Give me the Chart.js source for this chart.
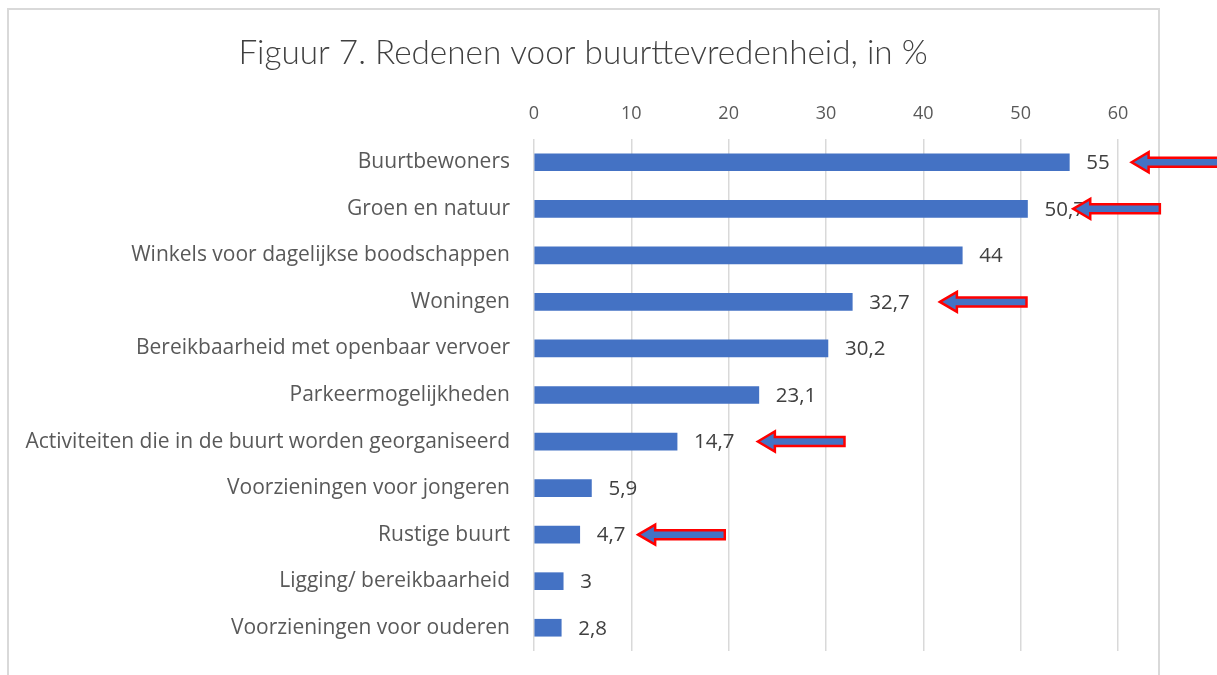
<!DOCTYPE html>
<html lang="nl">
<head>
<meta charset="UTF-8">
<title>Figuur 7. Redenen voor buurttevredenheid</title>
<script src="https://cdn.jsdelivr.net/npm/chart.js"></script>
<style>
  html, body { margin: 0; padding: 0; background: #fff; }
  .wrap { position: relative; width: 1217px; height: 675px; }
  .frame {
    position: absolute; left: 7px; top: 8px; width: 1153px; height: 700px;
    border: 2px solid #d9d9d9; box-sizing: border-box;
  }
  canvas { position: absolute; left: 0; top: 0; }
</style>
</head>
<body>
<div class="wrap">
  <div class="frame"></div>
  <canvas id="chart" width="1217" height="675"></canvas>
</div>

<script>
var titleText = 'Figuur 7. Redenen voor buurttevredenheid, in %';

var categories = [
  'Buurtbewoners',
  'Groen en natuur',
  'Winkels voor dagelijkse boodschappen',
  'Woningen',
  'Bereikbaarheid met openbaar vervoer',
  'Parkeermogelijkheden',
  'Activiteiten die in de buurt worden georganiseerd',
  'Voorzieningen voor jongeren',
  'Rustige buurt',
  'Ligging/ bereikbaarheid',
  'Voorzieningen voor ouderen'
];
var values = [55, 50.7, 44, 32.7, 30.2, 23.1, 14.7, 5.9, 4.7, 3, 2.8];

// markeerpijlen: categorie en waarde van de pijlpunt (in %)
var arrowCats = ['Buurtbewoners', 'Groen en natuur', 'Woningen', 'Activiteiten die in de buurt worden georganiseerd', 'Rustige buurt'];
var arrowTips = [61.4, 55.4, 41.7, 23.0, 10.7];
var arrowLen = 8.9;

function fmt(v) {
  return String(v).replace('.', ',');
}

// waarden naast de balken
var valueLabels = {
  id: 'valueLabels',
  afterDatasetsDraw: function(chart) {
    var ctx = chart.ctx;
    var meta = chart.getDatasetMeta(0);
    ctx.save();
    ctx.font = '20.5px "Open Sans"';
    ctx.fillStyle = '#404040';
    ctx.textAlign = 'left';
    ctx.textBaseline = 'middle';
    meta.data.forEach(function(bar, i) {
      ctx.fillText(fmt(values[i]), bar.x + 17, bar.y + 1);
    });
    ctx.restore();
  }
};

// pijlen en titel
var extras = {
  id: 'extras',
  afterDraw: function(chart) {
    var ctx = chart.ctx;
    var xs = chart.scales.x, ys = chart.scales.y;
    ctx.save();
    for (var i = 0; i < arrowCats.length; i++) {
      var y = ys.getPixelForValue(categories.indexOf(arrowCats[i]));
      var tip = xs.getPixelForValue(arrowTips[i]);
      var tail = xs.getPixelForValue(arrowTips[i] + arrowLen);
      var head = 17;
      ctx.beginPath();
      ctx.moveTo(tip, y);
      ctx.lineTo(tip + head, y - 10);
      ctx.lineTo(tip + head, y - 4.5);
      ctx.lineTo(tail, y - 4.5);
      ctx.lineTo(tail, y + 4.5);
      ctx.lineTo(tip + head, y + 4.5);
      ctx.lineTo(tip + head, y + 10);
      ctx.closePath();
      ctx.fillStyle = '#4472C4';
      ctx.fill();
      ctx.lineWidth = 2.5;
      ctx.strokeStyle = '#FF0000';
      ctx.stroke();
    }
    ctx.font = '300 33.3px Lato';
    ctx.fillStyle = '#404040';
    ctx.textAlign = 'center';
    ctx.textBaseline = 'middle';
    ctx.fillText(titleText, 583, 53);
    ctx.restore();
  }
};

new Chart(document.getElementById('chart'), {
  type: 'bar',
  data: {
    labels: categories,
    datasets: [{
      data: values,
      backgroundColor: '#4472C4',
      barThickness: 17
    }]
  },
  options: {
    indexAxis: 'y',
    responsive: false,
    animation: false,
    layout: { padding: { top: 0, right: 99, bottom: 24, left: 0 } },
    plugins: {
      legend: { display: false },
      tooltip: { enabled: false }
    },
    scales: {
      x: {
        position: 'top',
        min: 0,
        max: 60,
        ticks: {
          stepSize: 10,
          color: '#595959',
          font: { family: 'Open Sans', size: 18 },
          padding: 14
        },
        grid: { color: '#d9d9d9', lineWidth: 1.5, drawTicks: false },
        border: { display: false },
        afterFit: function(scale) { scale.height = 139; }
      },
      y: {
        ticks: {
          color: '#595959',
          font: { family: 'Open Sans', size: 21 },
          padding: 24
        },
        grid: { display: false, drawTicks: false },
        border: { display: false },
        afterFit: function(scale) {
          scale.width = 534;
          scale.paddingTop = 0;
          scale.paddingBottom = 0;
        }
      }
    }
  },
  plugins: [valueLabels, extras]
});
</script>
</body>
</html>
